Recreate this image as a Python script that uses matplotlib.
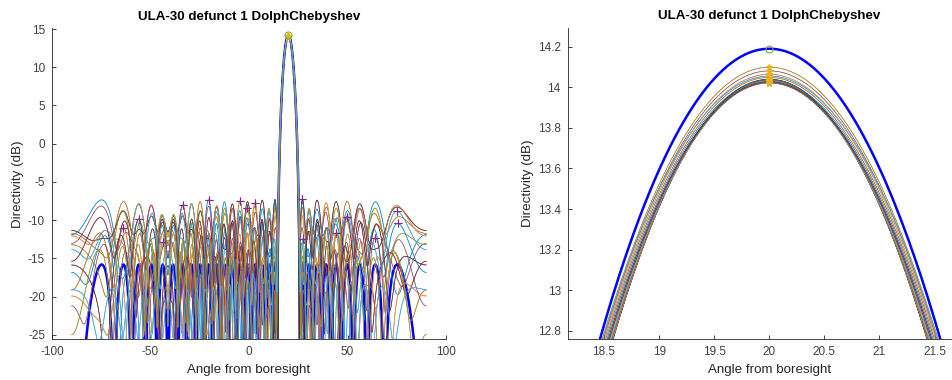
import matplotlib
matplotlib.use('Agg')
import matplotlib.pyplot as plt
import numpy as np
from matplotlib.ticker import FuncFormatter

# Параметры решётки (с картинки)
n_elements = 30
steer_deg = 20.0
sidelobe_db = 30.0
spacing_wl = 0.5
defunct_elements = list(range(1, 31))   # номер выключенного элемента для каждой тонкой кривой

angles = np.arange(-90.0, 90.0001, 0.02)

left_xticks = [-100, -50, 0, 50, 100]
left_yticks = [-25, -20, -15, -10, -5, 0, 5, 10, 15]
right_xticks = [18.5, 19, 19.5, 20, 20.5, 21, 21.5]
right_yticks = [12.8, 13, 13.2, 13.4, 13.6, 13.8, 14, 14.2]

title = 'ULA-30 defunct 1 DolphChebyshev'

# цвета MATLAB + чёрный
colors = [(0, 0.447, 0.741), (0.85, 0.325, 0.098), (0.929, 0.694, 0.125),
          (0.494, 0.184, 0.556), (0.466, 0.674, 0.188), (0.301, 0.745, 0.933),
          (0.635, 0.078, 0.184), (0.2, 0.2, 0.2)]


def chebwin(m, at):
    # окно Дольфа-Чебышёва (как в scipy)
    order = m - 1
    beta = np.cosh(np.arccosh(10 ** (abs(at) / 20.0)) / order)
    k = np.arange(m) * 1.0
    x = beta * np.cos(np.pi * k / m)
    p = np.zeros(x.shape)
    p[x > 1] = np.cosh(order * np.arccosh(x[x > 1]))
    p[x < -1] = (2 * (m % 2) - 1) * np.cosh(order * np.arccosh(-x[x < -1]))
    mid = np.abs(x) <= 1
    p[mid] = np.cos(order * np.arccos(x[mid]))
    if m % 2:
        w = np.real(np.fft.fft(p))
        n = (m + 1) // 2
        w = w[:n]
        w = np.concatenate((w[n - 1:0:-1], w))
    else:
        p = p * np.exp(1j * np.pi / m * np.arange(m))
        w = np.real(np.fft.fft(p))
        n = m // 2 + 1
        w = np.concatenate((w[n - 1:0:-1], w[1:n]))
    return w / w.max()


def directivity(w):
    pos = np.arange(n_elements) - (n_elements - 1) / 2
    psi = 2 * np.pi * spacing_wl * (np.sin(np.radians(angles)) - np.sin(np.radians(steer_deg)))
    af = np.exp(1j * np.outer(psi, pos)) @ w
    return 10 * np.log10(np.abs(af) ** 2 / np.sum(w ** 2) + 1e-30)


weights = chebwin(n_elements, sidelobe_db)
nominal = directivity(weights)
curves = []
for k in defunct_elements:
    w = weights.copy()
    w[k - 1] = 0
    curves.append(directivity(w))

i_peak = np.argmin(np.abs(angles - steer_deg))
side = np.abs(angles - steer_deg) > 6

plt.rcParams['font.family'] = ['Liberation Sans', 'DejaVu Sans']
fig = plt.figure(figsize=(9.52, 3.8), dpi=100)
ax1 = fig.add_axes([0.0546, 0.1071, 0.4139, 0.8184])
ax2 = fig.add_axes([0.5963, 0.1071, 0.4236, 0.8200])

for ax in (ax1, ax2):
    ax.plot(angles, nominal, color='blue', lw=1.8, zorder=2)
    for i, d in enumerate(curves):
        ax.plot(angles, d, color=colors[i % 8], lw=0.5, alpha=0.85, zorder=3)
    ax.plot(angles[i_peak], nominal[i_peak], 'o', mfc='none', mec=colors[4], ms=5, mew=0.8, zorder=5)
    for d in curves:
        ax.plot(angles[i_peak], d[i_peak], '*', color=colors[2], ms=5, mew=0.6, zorder=4)

# максимумы боковых лепестков
for d in curves:
    ds = np.where(side, d, -np.inf)
    j = np.argmax(ds)
    ax1.plot(angles[j], d[j], '+', color=colors[3], ms=6, mew=0.8, zorder=4)

fmt = FuncFormatter(lambda v, p: '%g' % v)
axc = (0.15, 0.15, 0.15)
for ax in (ax1, ax2):
    for s in ('top', 'right'):
        ax.spines[s].set_visible(False)
    for s in ('left', 'bottom'):
        ax.spines[s].set_color(axc)
        ax.spines[s].set_linewidth(0.6)
    ax.tick_params(direction='in', length=3, width=0.6, colors=axc, labelsize=8.5,
                   labelcolor=(0.25, 0.25, 0.25), pad=5)
    ax.xaxis.set_major_formatter(fmt)
    ax.yaxis.set_major_formatter(fmt)
    ax.set_xlabel('Angle from boresight', fontsize=9.6, color=(0.15, 0.15, 0.15), labelpad=4)
    ax.set_ylabel('Directivity (dB)', fontsize=9.6, color=(0.15, 0.15, 0.15), labelpad=3)
    ax.set_title(title, fontsize=9.6, fontweight='bold', pad=6)

ax1.set_xlim(-100, 100)
ax1.set_ylim(-25.6, 15.1)
ax1.set_xticks(left_xticks)
ax1.set_yticks(left_yticks)

ax2.set_xlim(18.17, 21.83)
ax2.set_ylim(12.758, 14.294)
ax2.set_xticks(right_xticks)
ax2.set_yticks(right_yticks)

fig.savefig('out.png', dpi=100)
